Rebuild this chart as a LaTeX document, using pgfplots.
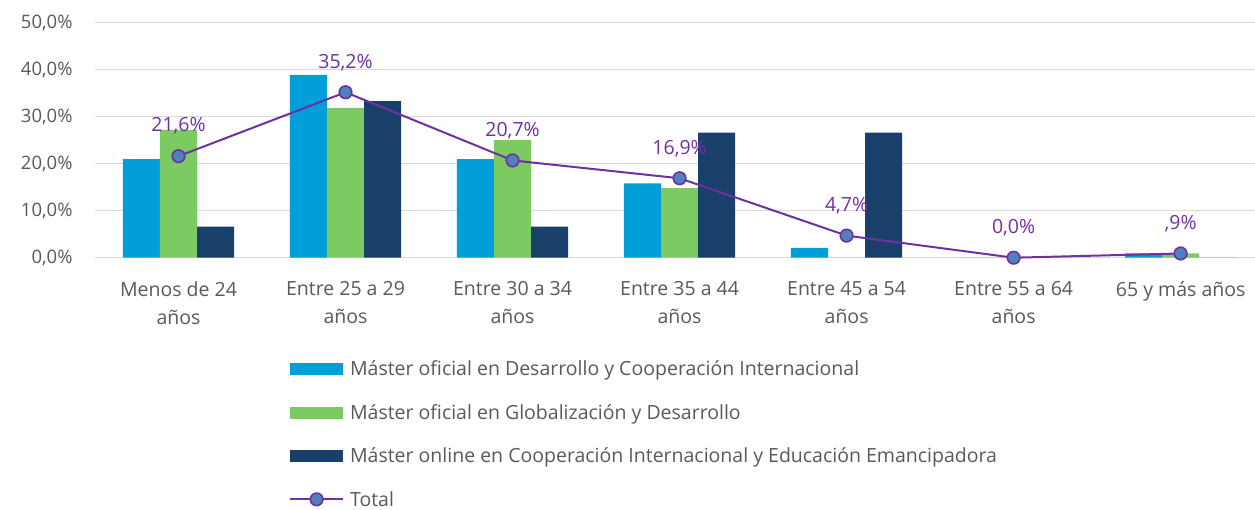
\documentclass[border=0pt]{standalone}
\usepackage{fontspec}
\setmainfont{Open Sans}
\usepackage{pgfplots}
\pgfplotsset{compat=1.18}
\definecolor{cblue}{HTML}{009FDA}
\definecolor{cgreen}{HTML}{7CCB62}
\definecolor{cnavy}{HTML}{18406B}
\definecolor{cpurp}{HTML}{7030A0}
\definecolor{cmark}{HTML}{4F81BD}
\definecolor{cgrid}{HTML}{D9D9D9}
\definecolor{ctext}{HTML}{595959}
\newcommand\cf{\fontsize{18.5bp}{28bp}\selectfont}
\newcommand\cfl{\fontsize{19.5bp}{28bp}\selectfont}
\pgfplotsset{
  barleg/.style={legend image code/.code={\fill[##1] (0bp,-6bp) rectangle (53bp,6bp); \path (57bp,0bp);}},
  lineleg/.style={legend image code/.code={\draw[mark repeat=2,mark phase=2,##1] plot coordinates {(0bp,0bp) (26.5bp,0bp) (53bp,0bp)}; \path (57bp,0bp);}},
}
\begin{document}
\begin{tikzpicture}
\begin{axis}[
  at={(0,0)}, anchor=south west,
  scale only axis, width=1160bp, height=235bp,
  xmin=-0.5, xmax=6.445, ymin=0, ymax=50,
  clip=false,
  axis line style={draw=none},
  tick style={draw=none},
  ymajorgrids, grid style={cgrid, line width=1.4bp},
  ytick={0,10,20,30,40,50},
  yticklabels={{0,0\%},{10,0\%},{20,0\%},{30,0\%},{40,0\%},{50,0\%}},
  yticklabel style={font=\cf, text=ctext, xshift=-19bp},
  xtick={0,1,2,3,4,5,6},
  xticklabels={{Menos de 24\\años},{Entre 25 a 29\\años},{Entre 30 a 34\\años},{Entre 35 a 44\\años},{Entre 45 a 54\\años},{Entre 55 a 64\\años},{65 y más años}},
  xticklabel style={font=\cfl, text=ctext, align=center, yshift=-20bp},
  legend style={at={(axis description cs:0.1646,-0.4215)}, anchor=north west,
    draw=none, fill=none, font=\cfl, text=ctext, row sep=23bp,
    cells={anchor=west}},
  legend cell align=left,
]
\addplot[ybar, bar width=0.222, bar shift=-0.222, fill=cblue, draw=none, barleg]
  coordinates {(0,21.0) (1,38.9) (2,21.0) (3,15.8) (4,2.1) (5,0) (6,0.9)};
\addlegendentry{Máster oficial en Desarrollo y Cooperación Internacional}
\addplot[ybar, bar width=0.222, bar shift=0, fill=cgreen, draw=none, barleg]
  coordinates {(0,27.2) (1,31.9) (2,25.0) (3,14.8) (4,0) (5,0) (6,0.9)};
\addlegendentry{Máster oficial en Globalización y Desarrollo}
\addplot[ybar, bar width=0.222, bar shift=0.222, fill=cnavy, draw=none, barleg]
  coordinates {(0,6.6) (1,33.3) (2,6.6) (3,26.6) (4,26.6) (5,0) (6,0)};
\addlegendentry{Máster online en Cooperación Internacional y Educación Emancipadora}
\addplot[cpurp, line width=2bp, mark=*, mark size=6.3bp,
  mark options={fill=cmark, draw=cpurp, line width=1.6bp},
  nodes near coords, point meta=explicit symbolic,
  every node near coord/.style={anchor=center, yshift=30bp, text=cpurp, font=\cfl},
  lineleg]
  coordinates {(0,21.6) [{21,6\%}] (1,35.2) [{35,2\%}] (2,20.7) [{20,7\%}] (3,16.9) [{16,9\%}] (4,4.7) [{4,7\%}] (5,0) [{0,0\%}] (6,0.9) [{,9\%}]};
\addlegendentry{Total}
\end{axis}
\pgfresetboundingbox
\path[use as bounding box] (-95bp,-252.3bp) rectangle (1160bp,257.7bp);
\end{tikzpicture}
\end{document}
